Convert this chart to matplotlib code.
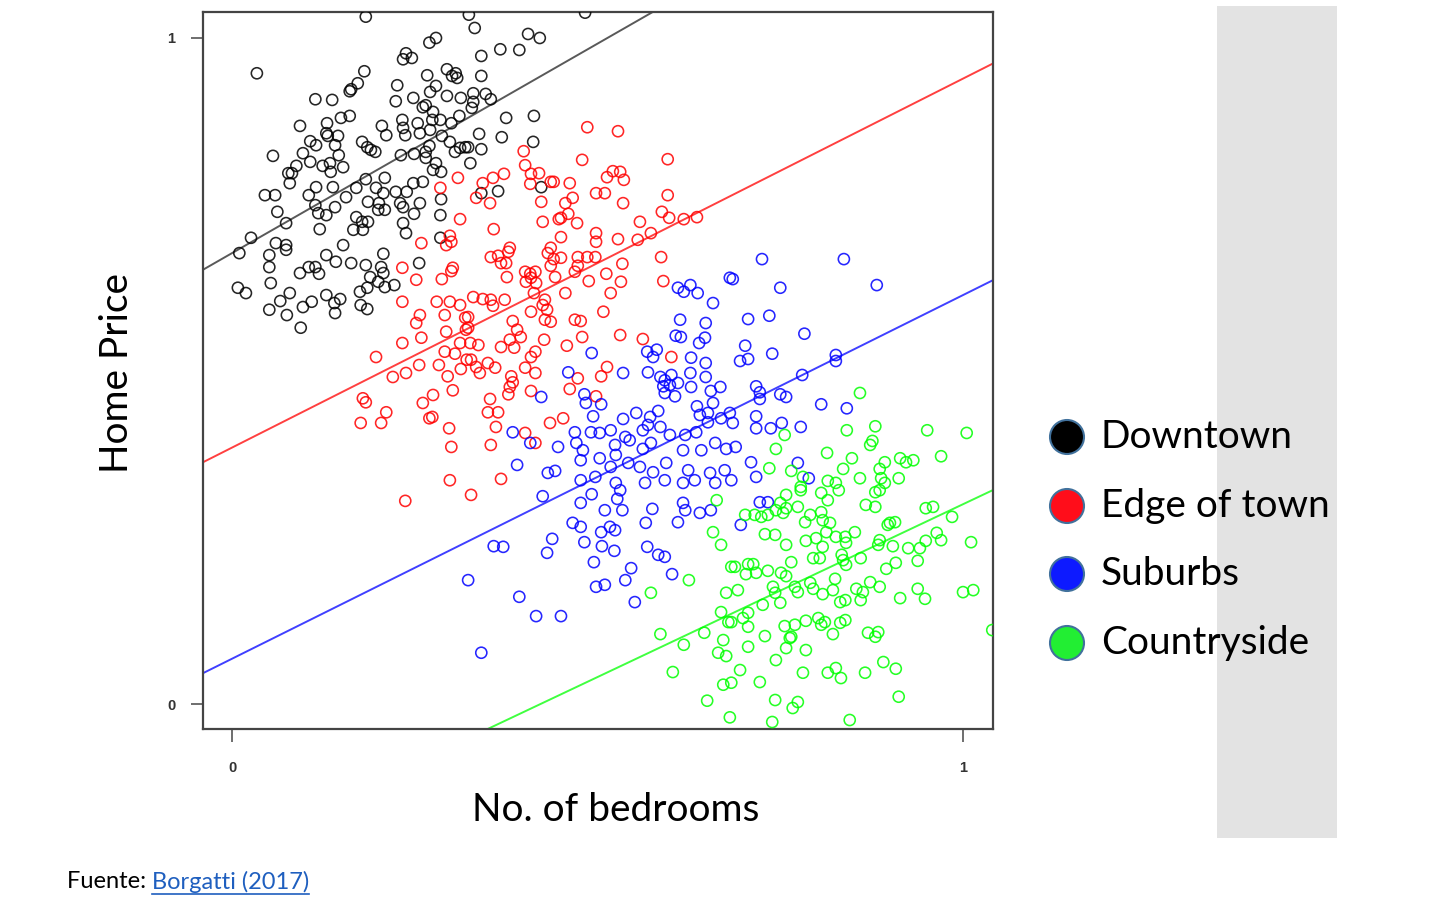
import matplotlib
matplotlib.use("Agg")
import matplotlib.pyplot as plt
from matplotlib.patches import Rectangle, Ellipse
from matplotlib.lines import Line2D

# ---------------- data ----------------
groups = ["Downtown", "Edge of town", "Suburbs", "Countryside"]
colors = ["#000000", "#FF0000", "#0000FF", "#00FF00"]
legend_fill = ["#000000", "#FF0D1A", "#0D1AFF", "#22EE33"]

# fitted lines: intercept, slope
line_intercepts = [0.677, 0.385, 0.068, -0.219]
line_slopes = [0.629, 0.554, 0.546, 0.519]

downtown_x = [0.183, 0.279, 0.270, 0.238, 0.246, 0.234, 0.034, 0.181, 0.294, 0.306, 0.308, 0.301, 0.267,
              0.226, 0.172, 0.163, 0.161, 0.279, 0.271, 0.294, 0.313, 0.114, 0.137, 0.224, 0.248, 0.265,
              0.261, 0.275, 0.149, 0.161, 0.093, 0.130, 0.129, 0.145, 0.131, 0.205, 0.211, 0.233, 0.234,
              0.237, 0.254, 0.257, 0.271, 0.274, 0.285, 0.300, 0.311, 0.287, 0.298, 0.312, 0.319, 0.107,
              0.115, 0.141, 0.146, 0.097, 0.056, 0.178, 0.190, 0.196, 0.185, 0.231, 0.249, 0.265, 0.270,
              0.265, 0.279, 0.286, 0.275, 0.305, 0.107, 0.124, 0.134, 0.135, 0.152, 0.088, 0.077, 0.082,
              0.079, 0.183, 0.209, 0.197, 0.207, 0.170, 0.138, 0.115, 0.156, 0.105, 0.045, 0.059, 0.224,
              0.239, 0.248, 0.261, 0.257, 0.234, 0.230, 0.186, 0.201, 0.200, 0.209, 0.141, 0.114, 0.118,
              0.129, 0.062, 0.074, 0.170, 0.178, 0.186, 0.166, 0.179, 0.234, 0.238, 0.249, 0.285, 0.286,
              0.120, 0.026, 0.060, 0.074, 0.152, 0.285,
              0.332, 0.405, 0.421, 0.367, 0.393, 0.341, 0.341, 0.330, 0.347, 0.354, 0.330, 0.328, 0.375,
              0.413, 0.338, 0.369, 0.412, 0.341, 0.323, 0.326, 0.364, 0.341, 0.423, 0.483, 0.324,
              0.010, 0.051, 0.074, 0.129, 0.142, 0.163, 0.183, 0.207, 0.204, 0.207, 0.256, 0.051, 0.093,
              0.105, 0.114, 0.119, 0.053, 0.008, 0.019, 0.066, 0.079, 0.051, 0.075, 0.097, 0.109, 0.129,
              0.140, 0.148, 0.141, 0.175, 0.185, 0.200, 0.189, 0.209, 0.222, 0.176, 0.185, 0.094]
downtown_y = [1.032, 1.000, 0.993, 0.977, 0.970, 0.968, 0.947, 0.950, 0.953, 0.947, 0.940, 0.943, 0.944,
              0.929, 0.932, 0.923, 0.920, 0.928, 0.919, 0.913, 0.910, 0.908, 0.907, 0.905, 0.910, 0.899,
              0.896, 0.889, 0.880, 0.883, 0.868, 0.872, 0.857, 0.853, 0.853, 0.868, 0.854, 0.877, 0.865,
              0.854, 0.872, 0.857, 0.862, 0.877, 0.877, 0.872, 0.883, 0.853, 0.844, 0.835, 0.836, 0.845,
              0.839, 0.839, 0.824, 0.827, 0.823, 0.844, 0.832, 0.829, 0.836, 0.824, 0.826, 0.829, 0.838,
              0.820, 0.812, 0.799, 0.802, 0.829, 0.814, 0.808, 0.812, 0.799, 0.806, 0.808, 0.797, 0.797,
              0.782, 0.788, 0.790, 0.775, 0.767, 0.775, 0.776, 0.776, 0.761, 0.764, 0.764, 0.764, 0.769,
              0.769, 0.782, 0.784, 0.752, 0.746, 0.752, 0.754, 0.752, 0.742, 0.742, 0.746, 0.749, 0.737,
              0.734, 0.739, 0.722, 0.731, 0.724, 0.724, 0.712, 0.712, 0.722, 0.707, 0.736, 0.734, 0.758,
              0.713, 0.700, 0.692, 0.689, 0.689, 0.700,
              1.015, 1.006, 1.000, 0.983, 0.982, 0.973, 0.943, 0.917, 0.916, 0.908, 0.904, 0.895, 0.880,
              0.883, 0.856, 0.851, 0.844, 0.833, 0.836, 0.812, 0.770, 0.767, 0.776, 1.038, 1.035,
              0.677, 0.674, 0.682, 0.674, 0.664, 0.662, 0.659, 0.676, 0.656, 0.647, 0.662, 0.656, 0.647,
              0.656, 0.656, 0.646, 0.632, 0.625, 0.617, 0.605, 0.617, 0.592, 0.584, 0.596, 0.604, 0.614,
              0.602, 0.608, 0.587, 0.619, 0.625, 0.634, 0.641, 0.626, 0.629, 0.599, 0.593, 0.565]

edge_x = [0.309, 0.285, 0.312, 0.298, 0.300, 0.293, 0.259, 0.486, 0.528, 0.399, 0.479, 0.596, 0.401,
          0.357, 0.343, 0.372, 0.409, 0.420, 0.408, 0.436, 0.440, 0.462, 0.513, 0.521, 0.531, 0.536,
          0.334, 0.353, 0.423, 0.456, 0.466, 0.498, 0.510, 0.535, 0.596, 0.588, 0.598, 0.618, 0.636,
          0.425, 0.447, 0.450, 0.460, 0.472, 0.558, 0.358, 0.450, 0.498, 0.498, 0.528, 0.555, 0.573,
          0.380, 0.436, 0.233, 0.252, 0.287, 0.300, 0.302, 0.233, 0.280, 0.298, 0.312, 0.291, 0.257,
          0.252, 0.319, 0.233, 0.259, 0.293, 0.312, 0.320, 0.197, 0.220, 0.238, 0.256, 0.283, 0.291,
          0.305, 0.321, 0.295, 0.313, 0.179, 0.183, 0.211, 0.176, 0.204, 0.261, 0.275, 0.302, 0.270,
          0.274, 0.297, 0.300, 0.298, 0.237, 0.327, 0.354, 0.364, 0.378, 0.368, 0.375, 0.432, 0.440,
          0.450, 0.436, 0.473, 0.486, 0.497, 0.534, 0.587, 0.590, 0.401, 0.408, 0.415, 0.402, 0.416,
          0.409, 0.376, 0.442, 0.469, 0.473, 0.488, 0.512, 0.532, 0.330, 0.343, 0.354, 0.357, 0.373,
          0.413, 0.428, 0.425, 0.431, 0.456, 0.518, 0.409, 0.508, 0.323, 0.323, 0.384, 0.390, 0.380,
          0.395, 0.368, 0.386, 0.428, 0.436, 0.469, 0.477, 0.427, 0.458, 0.479, 0.531, 0.562, 0.415,
          0.409, 0.401, 0.326, 0.337, 0.327, 0.334, 0.339, 0.350, 0.360, 0.382, 0.384, 0.380, 0.378,
          0.415, 0.473, 0.505, 0.513, 0.601, 0.409, 0.462, 0.498, 0.353, 0.350, 0.364, 0.361, 0.435,
          0.453, 0.401, 0.354, 0.415, 0.368]
edge_y = [0.790, 0.775, 0.728, 0.703, 0.694, 0.689, 0.692, 0.866, 0.860, 0.830, 0.817, 0.818, 0.809,
          0.790, 0.782, 0.796, 0.796, 0.797, 0.781, 0.784, 0.784, 0.782, 0.791, 0.800, 0.799, 0.787,
          0.760, 0.752, 0.754, 0.752, 0.760, 0.767, 0.767, 0.752, 0.764, 0.739, 0.730, 0.728, 0.731,
          0.724, 0.728, 0.730, 0.736, 0.722, 0.724, 0.713, 0.701, 0.707, 0.694, 0.698, 0.697, 0.707,
          0.685, 0.685, 0.655, 0.637, 0.638, 0.650, 0.655, 0.604, 0.604, 0.604, 0.599, 0.584, 0.584,
          0.572, 0.580, 0.542, 0.550, 0.559, 0.542, 0.562, 0.521, 0.491, 0.497, 0.509, 0.509, 0.529,
          0.526, 0.517, 0.492, 0.503, 0.459, 0.453, 0.438, 0.422, 0.422, 0.452, 0.464, 0.471, 0.429,
          0.431, 0.414, 0.386, 0.336, 0.305, 0.314, 0.671, 0.673, 0.679, 0.662, 0.662, 0.677, 0.668,
          0.670, 0.658, 0.671, 0.671, 0.671, 0.661, 0.671, 0.635, 0.649, 0.646, 0.649, 0.634, 0.632,
          0.640, 0.641, 0.641, 0.649, 0.658, 0.635, 0.646, 0.634, 0.611, 0.608, 0.607, 0.598, 0.607,
          0.617, 0.607, 0.599, 0.592, 0.617, 0.617, 0.589, 0.589, 0.581, 0.565, 0.575, 0.562, 0.547,
          0.551, 0.536, 0.535, 0.577, 0.574, 0.577, 0.575, 0.547, 0.538, 0.551, 0.554, 0.548, 0.529,
          0.521, 0.505, 0.542, 0.539, 0.517, 0.506, 0.497, 0.512, 0.505, 0.492, 0.483, 0.476, 0.465,
          0.497, 0.489, 0.492, 0.506, 0.521, 0.470, 0.473, 0.462, 0.458, 0.438, 0.438, 0.416, 0.422,
          0.429, 0.407, 0.389, 0.392, 0.338]

suburbs_x = [0.610, 0.618, 0.627, 0.637, 0.681, 0.658, 0.613, 0.648, 0.607, 0.614, 0.647, 0.639, 0.492,
             0.568, 0.576, 0.581, 0.628, 0.648, 0.460, 0.535, 0.569, 0.586, 0.592, 0.601, 0.590, 0.599,
             0.610, 0.627, 0.628, 0.648, 0.668, 0.655, 0.658, 0.592, 0.606, 0.482, 0.484, 0.505, 0.423,
             0.494, 0.535, 0.553, 0.583, 0.572, 0.636, 0.640, 0.651, 0.669, 0.681, 0.384, 0.408, 0.469,
             0.491, 0.503, 0.518, 0.538, 0.544, 0.562, 0.569, 0.586, 0.599, 0.620, 0.635, 0.651, 0.471,
             0.446, 0.480, 0.524, 0.562, 0.573, 0.617, 0.642, 0.661, 0.676, 0.390, 0.432, 0.442, 0.477,
             0.503, 0.518, 0.525, 0.542, 0.558, 0.576, 0.594, 0.624, 0.654, 0.674, 0.683, 0.477, 0.497,
             0.525, 0.565, 0.592, 0.617, 0.633, 0.661,
             0.725, 0.837, 0.882, 0.750, 0.685, 0.706, 0.735, 0.783, 0.702, 0.695, 0.706, 0.739, 0.826,
             0.826, 0.780, 0.717, 0.722, 0.722, 0.750, 0.758, 0.806, 0.841, 0.717, 0.717, 0.737, 0.752,
             0.778, 0.685, 0.689, 0.710, 0.717, 0.774, 0.789, 0.722, 0.733, 0.696,
             0.425, 0.492, 0.531, 0.527, 0.477, 0.510, 0.534, 0.575, 0.617, 0.620, 0.640, 0.655, 0.466,
             0.477, 0.505, 0.517, 0.524, 0.566, 0.610, 0.358, 0.371, 0.438, 0.431, 0.482, 0.506, 0.523,
             0.568, 0.583, 0.592, 0.495, 0.546, 0.602, 0.538, 0.498, 0.510, 0.551, 0.323, 0.393, 0.416,
             0.450, 0.341]
suburbs_y = [0.625, 0.619, 0.629, 0.617, 0.640, 0.602, 0.577, 0.572, 0.553, 0.551, 0.550, 0.542, 0.527,
             0.529, 0.521, 0.532, 0.520, 0.512, 0.498, 0.497, 0.498, 0.491, 0.486, 0.494, 0.477, 0.479,
             0.482, 0.497, 0.476, 0.491, 0.476, 0.470, 0.452, 0.467, 0.462, 0.465, 0.452, 0.450, 0.461,
             0.432, 0.428, 0.437, 0.440, 0.431, 0.447, 0.434, 0.437, 0.429, 0.437, 0.408, 0.392, 0.408,
             0.408, 0.407, 0.411, 0.401, 0.396, 0.411, 0.419, 0.416, 0.404, 0.404, 0.408, 0.423, 0.392,
             0.386, 0.381, 0.389, 0.383, 0.392, 0.381, 0.381, 0.392, 0.383, 0.359, 0.347, 0.350, 0.366,
             0.369, 0.356, 0.374, 0.362, 0.356, 0.348, 0.362, 0.351, 0.347, 0.351, 0.336, 0.336, 0.341,
             0.332, 0.332, 0.336, 0.332, 0.336, 0.332,
             0.668, 0.668, 0.629, 0.625, 0.638, 0.578, 0.583, 0.556, 0.538, 0.515, 0.518, 0.526, 0.524,
             0.515, 0.494, 0.477, 0.468, 0.458, 0.465, 0.461, 0.450, 0.444, 0.432, 0.414, 0.414, 0.422,
             0.416, 0.422, 0.386, 0.363, 0.341, 0.362, 0.339, 0.303, 0.303, 0.269,
             0.312, 0.315, 0.321, 0.308, 0.302, 0.291, 0.291, 0.293, 0.302, 0.291, 0.287, 0.291, 0.272,
             0.266, 0.258, 0.266, 0.261, 0.272, 0.273, 0.237, 0.236, 0.248, 0.227, 0.243, 0.237, 0.230,
             0.236, 0.224, 0.221, 0.213, 0.204, 0.195, 0.186, 0.176, 0.179, 0.153, 0.186, 0.161, 0.132,
             0.132, 0.077]

country_x = [0.859, 0.880, 0.841, 0.951, 1.005, 0.756, 0.744, 0.735, 0.765, 0.876, 0.873, 0.814, 0.848,
             0.893, 0.914, 0.922, 0.932, 0.970, 0.836, 0.886, 0.859, 0.888, 0.893, 0.912, 0.815, 0.826,
             0.778, 0.781,
             0.663, 0.658, 0.669, 0.683, 0.625, 0.573, 0.676, 0.669, 0.679, 0.683, 0.586, 0.618, 0.646,
             0.672, 0.665, 0.676, 0.603, 0.672, 0.683, 0.650, 0.681,
             0.758, 0.778, 0.806, 0.815, 0.830, 0.880, 0.886, 0.702, 0.715, 0.724, 0.733, 0.744, 0.754,
             0.758, 0.750, 0.774, 0.791, 0.784, 0.806, 0.808, 0.818, 0.867, 0.880, 0.949, 0.959, 0.985,
             0.900, 0.907, 0.897, 0.729, 0.743, 0.758, 0.785, 0.799, 0.813, 0.826, 0.839, 0.852, 0.840,
             0.808, 0.804, 0.795, 0.834, 0.836, 0.840, 0.860, 0.886, 0.884, 0.904, 0.925, 0.941, 0.949,
             0.964, 0.970, 1.011, 0.688, 0.706, 0.713, 0.703, 0.717, 0.733, 0.751, 0.758, 0.765, 0.895,
             0.908, 0.938, 0.692, 0.740, 0.743, 0.770, 0.774, 0.791, 0.795, 0.808, 0.822, 0.825, 0.854,
             0.863, 0.860, 0.873, 0.886, 0.832, 0.839, 0.726, 0.750, 0.914, 0.938, 0.948, 1.000, 1.014,
             0.699, 0.706, 0.706, 0.756, 0.770, 0.765, 0.785, 0.802, 0.806, 0.811, 0.822, 0.832, 0.839,
             0.729, 0.763, 0.758, 0.785, 0.706, 0.870, 0.880, 0.884, 0.744, 0.695, 0.722, 0.781, 0.815,
             0.826, 0.833, 0.866, 0.891, 0.908, 0.912, 1.040, 0.743, 0.774, 0.767, 0.739, 0.845]
country_y = [0.467, 0.417, 0.411, 0.411, 0.407, 0.404, 0.383, 0.354, 0.350, 0.395, 0.389, 0.377, 0.369,
             0.363, 0.369, 0.363, 0.366, 0.372, 0.353, 0.353, 0.339, 0.339, 0.332, 0.339, 0.335, 0.332,
             0.326, 0.341,
             0.306, 0.258, 0.239, 0.206, 0.186, 0.167, 0.167, 0.138, 0.123, 0.123, 0.105, 0.089, 0.107,
             0.096, 0.077, 0.072, 0.048, 0.029, 0.032, 0.005, -0.020,
             0.314, 0.321, 0.317, 0.306, 0.321, 0.318, 0.321, 0.284, 0.284, 0.281, 0.284, 0.291, 0.287,
             0.294, 0.302, 0.296, 0.284, 0.273, 0.288, 0.276, 0.272, 0.299, 0.296, 0.294, 0.296, 0.281,
             0.272, 0.273, 0.269, 0.255, 0.254, 0.239, 0.245, 0.249, 0.258, 0.251, 0.251, 0.258, 0.242,
             0.236, 0.219, 0.219, 0.224, 0.216, 0.209, 0.219, 0.246, 0.239, 0.237, 0.234, 0.234, 0.245,
             0.257, 0.246, 0.243, 0.206, 0.210, 0.210, 0.195, 0.197, 0.200, 0.197, 0.192, 0.213, 0.203,
             0.212, 0.215, 0.171, 0.176, 0.167, 0.176, 0.168, 0.182, 0.173, 0.165, 0.171, 0.188, 0.173,
             0.168, 0.156, 0.183, 0.176, 0.153, 0.156, 0.149, 0.152, 0.159, 0.173, 0.158, 0.168, 0.171,
             0.129, 0.137, 0.116, 0.117, 0.119, 0.101, 0.125, 0.129, 0.119, 0.123, 0.105, 0.122, 0.126,
             0.102, 0.099, 0.084, 0.081, 0.086, 0.107, 0.101, 0.108, 0.066, 0.051, 0.033, 0.047, 0.047,
             0.054, 0.039, 0.047, 0.063, 0.053, 0.011, 0.111, 0.006, 0.003, -0.006, -0.027, -0.024]

series_x = [downtown_x, edge_x, suburbs_x, country_x]
series_y = [downtown_y, edge_y, suburbs_y, country_y]

x_ticks = [0, 1]
y_ticks = [0, 1]
x_label = "No. of bedrooms"
y_label = "Home Price"

# ---------------- figure ----------------
W, H = 1456, 916
fig = plt.figure(figsize=(W / 100, H / 100), dpi=100)
fig.patch.set_facecolor("white")

def fx(px):
    return px / W

def fy(py):
    return 1 - py / H

# grey panel at the right
fig.patches.append(Rectangle((fx(1217), fy(838)), fx(1337) - fx(1217), (838 - 6) / H,
                             transform=fig.transFigure, facecolor="#E3E3E3", edgecolor="none", zorder=0))

ax = fig.add_axes([fx(203), fy(729), (993 - 203) / W, (729 - 12) / H])
ax.set_facecolor("white")
ax.set_zorder(2)

for xs, ys, c in zip(series_x, series_y, colors):
    ax.scatter(xs, ys, s=64, facecolors="none", edgecolors=c, linewidths=1.15, alpha=0.85, zorder=3)

for b, m, c in zip(line_intercepts, line_slopes, colors):
    lc = "#222222" if c == "#000000" else c
    ax.axline((0, b), slope=m, color=lc, linewidth=1.4, alpha=0.75, zorder=2)

ax.set_xlim(-0.0397, 1.041)
ax.set_ylim(-0.0375, 1.039)
for s in ax.spines.values():
    s.set_color("#444444")
    s.set_linewidth(1.6)

ax.set_xticks(x_ticks)
ax.set_yticks(y_ticks)
ax.set_xticklabels([str(t) for t in x_ticks], fontsize=10.5, fontweight="bold", color="#333333",
                   family="Liberation Sans")
ax.set_yticklabels([str(t) for t in y_ticks], fontsize=10.5, fontweight="bold", color="#333333",
                   family="Liberation Sans")
ax.tick_params(axis="x", direction="out", length=9, width=1.2, color="#555555", pad=14)
ax.tick_params(axis="y", direction="out", length=9, width=1.2, color="#555555", pad=11)

fig.text(fx(117), fy(373), y_label, rotation=90, ha="center", va="center", fontsize=28,
         family="Lato", color="black")
fig.text(fx(616), fy(810), x_label, ha="center", va="center", fontsize=28,
         family="Lato", color="black")

# legend
leg_y = [437, 506, 574, 643]
for name, fc, py in zip(groups, legend_fill, leg_y):
    fig.patches.append(Ellipse((fx(1067), fy(py)), 34 / W, 34 / H, transform=fig.transFigure,
                               facecolor=fc, edgecolor="#41719C", linewidth=1.5, zorder=5))
    fig.text(fx(1101), fy(py), name, ha="left", va="center", fontsize=28, family="Lato",
             color="black", zorder=6)

# footer
t1 = fig.text(fx(67), fy(882), "Fuente: ", ha="left", va="center", fontsize=17, family="Lato",
              color="black")
fig.canvas.draw()
r = fig.canvas.get_renderer()
bb = t1.get_window_extent(r)
t2 = fig.text(bb.x1 / W, fy(882), "Borgatti (2017)", ha="left", va="center", fontsize=17,
              family="Lato", color="#1F5FBF")
fig.canvas.draw()
bb2 = t2.get_window_extent(r)
fig.lines.append(Line2D([bb2.x0 / W, bb2.x1 / W], [bb2.y0 / H - 1 / H, bb2.y0 / H - 1 / H],
                        transform=fig.transFigure, color="#1F5FBF", linewidth=1.2))

fig.savefig("out.png", dpi=100, facecolor="white")
